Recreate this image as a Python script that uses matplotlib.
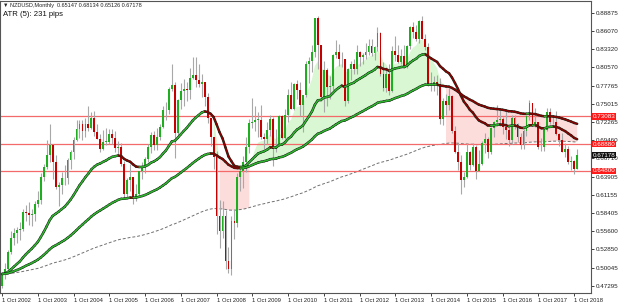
import numpy as np
import pandas as pd
import matplotlib
matplotlib.use("Agg")
import matplotlib.pyplot as plt
from matplotlib.collections import LineCollection
from matplotlib import patheffects as pe
from matplotlib.transforms import blended_transform_factory

plt.rcParams["font.family"] = ["Liberation Sans", "DejaVu Sans"]

# NZDUSD monthly bars, Oct 2002 .. Nov 2018
months = pd.date_range("2002-10-01", "2018-11-01", freq="MS")
first_open = 0.4720

closes = [
    0.4910, 0.4990, 0.5245,                                                   # 2002
    0.5455, 0.5540, 0.5580, 0.5600, 0.5860, 0.5840, 0.5810, 0.5830, 0.5970, 0.6040, 0.6380, 0.6540,  # 2003
    0.6720, 0.6880, 0.6610, 0.6230, 0.6260, 0.6370, 0.6370, 0.6640, 0.6760, 0.6950, 0.7120, 0.7200,  # 2004
    0.7080, 0.7190, 0.7130, 0.7290, 0.7070, 0.6970, 0.6820, 0.6920, 0.6920, 0.7040, 0.6980, 0.6830,  # 2005
    0.6840, 0.6590, 0.6120, 0.6340, 0.6380, 0.6070, 0.6130, 0.6470, 0.6540, 0.6660, 0.6840, 0.7030,  # 2006
    0.6880, 0.7000, 0.7150, 0.7400, 0.7400, 0.7720, 0.7790, 0.7050, 0.7560, 0.7700, 0.7720, 0.7710,  # 2007
    0.7900, 0.7940, 0.7860, 0.7800, 0.7840, 0.7610, 0.7280, 0.7000, 0.6690, 0.5790, 0.5570, 0.5800,  # 2008
    0.5100, 0.4980, 0.5710, 0.5680, 0.6390, 0.6480, 0.6620, 0.6850, 0.7210, 0.7220, 0.7260, 0.7260,  # 2009
    0.7000, 0.6970, 0.7100, 0.7270, 0.6810, 0.6860, 0.7320, 0.6980, 0.7330, 0.7630, 0.7420, 0.7800,  # 2010
    0.7710, 0.7490, 0.7630, 0.8110, 0.8160, 0.8290, 0.8800, 0.8390, 0.7610, 0.8010, 0.7760, 0.7770,  # 2011
    0.8240, 0.8290, 0.8180, 0.8180, 0.7540, 0.8030, 0.8110, 0.8030, 0.8290, 0.8210, 0.8250, 0.8290,  # 2012
    0.8380, 0.8270, 0.8370, 0.8580, 0.7960, 0.7740, 0.7960, 0.7690, 0.8310, 0.8250, 0.8140, 0.8230,  # 2013
    0.8070, 0.8380, 0.8670, 0.8590, 0.8490, 0.8760, 0.8490, 0.8360, 0.7800, 0.7800, 0.7830, 0.7800,  # 2014
    0.7270, 0.7550, 0.7480, 0.7620, 0.7090, 0.6770, 0.6610, 0.6340, 0.6390, 0.6760, 0.6570, 0.6840,  # 2015
    0.6480, 0.6590, 0.6910, 0.6970, 0.6760, 0.7130, 0.7220, 0.7260, 0.7270, 0.7140, 0.7100, 0.6950,  # 2016
    0.7290, 0.7190, 0.6990, 0.6870, 0.7090, 0.7320, 0.7510, 0.7170, 0.7220, 0.6840, 0.6840, 0.7100,  # 2017
    0.7370, 0.7220, 0.7230, 0.7040, 0.6950, 0.6770, 0.6810, 0.6620, 0.6630, 0.6515, 0.67178,         # 2018
]
highs = [
    0.4945, 0.5080, 0.5280,
    0.5560, 0.5610, 0.5630, 0.5700, 0.5900, 0.5960, 0.6000, 0.5900, 0.6020, 0.6180, 0.6450, 0.6590,
    0.6950, 0.7190, 0.6890, 0.6720, 0.6310, 0.6460, 0.6570, 0.6680, 0.6800, 0.6990, 0.7250, 0.7250,
    0.7250, 0.7290, 0.7466, 0.7370, 0.7390, 0.7190, 0.7040, 0.7100, 0.7130, 0.7110, 0.7120, 0.7080,
    0.6930, 0.6910, 0.6630, 0.6370, 0.6580, 0.6390, 0.6280, 0.6480, 0.6610, 0.6690, 0.6890, 0.7070,
    0.7080, 0.7130, 0.7200, 0.7460, 0.7530, 0.7760, 0.8107, 0.7830, 0.7580, 0.7820, 0.7880, 0.7830,
    0.8040, 0.8215, 0.8213, 0.8100, 0.7960, 0.7800, 0.7670, 0.7290, 0.7000, 0.6780, 0.6040, 0.6020,
    0.5890, 0.5320, 0.5800, 0.5900, 0.6440, 0.6560, 0.6710, 0.6990, 0.7270, 0.7590, 0.7470, 0.7380,
    0.7480, 0.7060, 0.7220, 0.7330, 0.7300, 0.7110, 0.7330, 0.7330, 0.7420, 0.7730, 0.7840, 0.7820,
    0.7870, 0.7840, 0.7640, 0.8160, 0.8210, 0.8390, 0.8800, 0.8843, 0.8390, 0.8150, 0.8050, 0.7920,
    0.8260, 0.8470, 0.8410, 0.8290, 0.8190, 0.8050, 0.8160, 0.8190, 0.8400, 0.8300, 0.8280, 0.8430,
    0.8480, 0.8480, 0.8380, 0.8670, 0.8590, 0.8130, 0.8060, 0.8100, 0.8380, 0.8540, 0.8390, 0.8330,
    0.8400, 0.8400, 0.8690, 0.8740, 0.8700, 0.8770, 0.8836, 0.8560, 0.8420, 0.7990, 0.7930, 0.7940,
    0.7890, 0.7590, 0.7650, 0.7740, 0.7630, 0.7170, 0.6900, 0.6720, 0.6460, 0.6900, 0.6780, 0.6900,
    0.6870, 0.6800, 0.6940, 0.7050, 0.7000, 0.7150, 0.7240, 0.7480, 0.7400, 0.7300, 0.7400, 0.7190,
    0.7330, 0.7330, 0.7210, 0.7060, 0.7110, 0.7330, 0.7560, 0.7510, 0.7430, 0.7230, 0.6980, 0.7120,
    0.7440, 0.7430, 0.7320, 0.7390, 0.7060, 0.7060, 0.6900, 0.6860, 0.6710, 0.6640, 0.68134,
]
lows = [
    0.4695, 0.4830, 0.4960,
    0.5210, 0.5350, 0.5380, 0.5420, 0.5560, 0.5720, 0.5660, 0.5640, 0.5710, 0.5930, 0.5970, 0.6320,
    0.6510, 0.6620, 0.6360, 0.6200, 0.5950, 0.6130, 0.6270, 0.6280, 0.6510, 0.6660, 0.6930, 0.6980,
    0.6950, 0.7000, 0.7080, 0.7110, 0.7010, 0.6960, 0.6770, 0.6790, 0.6870, 0.6890, 0.6890, 0.6770,
    0.6730, 0.6550, 0.6060, 0.6080, 0.6180, 0.5970, 0.6020, 0.6110, 0.6350, 0.6450, 0.6620, 0.6750,
    0.6790, 0.6790, 0.6950, 0.7130, 0.7250, 0.7340, 0.7700, 0.6683, 0.6980, 0.7420, 0.7470, 0.7540,
    0.7570, 0.7880, 0.7760, 0.7760, 0.7610, 0.7470, 0.7210, 0.6860, 0.6510, 0.5520, 0.5300, 0.5450,
    0.4990, 0.4920, 0.4890, 0.5440, 0.5630, 0.6180, 0.6220, 0.6460, 0.6750, 0.7130, 0.7080, 0.7000,
    0.6960, 0.6810, 0.6890, 0.7010, 0.6560, 0.6760, 0.6860, 0.6960, 0.6970, 0.7230, 0.7420, 0.7400,
    0.7570, 0.7310, 0.7070, 0.7610, 0.7820, 0.7980, 0.8220, 0.8030, 0.7550, 0.7370, 0.7460, 0.7580,
    0.7710, 0.8200, 0.8070, 0.8060, 0.7460, 0.7520, 0.7860, 0.7960, 0.7950, 0.8080, 0.8100, 0.8180,
    0.8250, 0.8230, 0.8170, 0.8300, 0.7930, 0.7690, 0.7680, 0.7630, 0.7680, 0.8150, 0.8120, 0.8100,
    0.8050, 0.8050, 0.8340, 0.8500, 0.8450, 0.8420, 0.8480, 0.8320, 0.7770, 0.7700, 0.7690, 0.7640,
    0.7200, 0.7180, 0.7330, 0.7410, 0.7060, 0.6750, 0.6500, 0.6130, 0.6240, 0.6370, 0.6490, 0.6560,
    0.6350, 0.6510, 0.6570, 0.6750, 0.6680, 0.6740, 0.6990, 0.7160, 0.7170, 0.7040, 0.6970, 0.6860,
    0.6890, 0.7110, 0.6920, 0.6820, 0.6820, 0.7010, 0.7250, 0.7170, 0.7140, 0.6810, 0.6780, 0.6780,
    0.7080, 0.7190, 0.7190, 0.7030, 0.6860, 0.6770, 0.6690, 0.6590, 0.6500, 0.6425, 0.65126,
]
opens = [first_open] + closes[:-1]
opens[-1] = 0.65147

level_lines = [0.73083, 0.68880, 0.64800]
price_ticks = [0.88875, 0.86070, 0.83320, 0.80570, 0.77765, 0.75015, 0.72265, 0.69460,
               0.66710, 0.63905, 0.61155, 0.58405, 0.55600, 0.52850, 0.50045, 0.47295]
fast_n, mid_n, slow_n, cloud_n = 26, 72, 200, 8
fill_from = pd.Timestamp("2008-09-01")

header = "\u25bc NZDUSD,Monthly  0.65147 0.68134 0.65126 0.67178"
atr_text = "ATR (5): 231 pips"

# ---- indicators
c = pd.Series(closes)
fast = c.ewm(span=fast_n, adjust=False).mean().values
mid = c.ewm(span=mid_n, adjust=False).mean().values
slow = c.ewm(span=slow_n, adjust=False).mean().values
cloud = c.ewm(span=cloud_n, adjust=False).mean().values

n = len(closes)
x = np.arange(n)
o, h, l, cl = map(np.array, (opens, highs, lows, closes))

fig = plt.figure(figsize=(6.25, 3.03), dpi=100)
ax = fig.add_axes([0.0, 0.033, 0.9456, 0.965])

# cloud: green above the mid line, pink down to the long ma when below
show = (months >= fill_from)
bull = cloud >= mid
ax.fill_between(x, cloud, mid, where=show & bull, color="#d8f7d2",
                interpolate=True, lw=0, zorder=1)
ax.fill_between(x, slow, mid, where=show & ~bull, color="#fddcdc",
                interpolate=False, lw=0, zorder=1)

# long ma dashed
ax.plot(x, slow, color="#707070", lw=0.7, ls=(0, (3, 2)), zorder=2)

# horizontal levels
for lv in level_lines:
    ax.axhline(lv, color="#f46a6a", lw=0.9, zorder=2)

# candles
ax.vlines(x, l, h, color="#a8a8a8", lw=0.8, zorder=3)
up = cl >= o
body_lo = np.minimum(o, cl)
body_h = np.maximum(np.abs(cl - o), 0.0008)
ax.bar(x[up], body_h[up], bottom=body_lo[up], width=0.62, color="#1fae1f", lw=0, zorder=4)
ax.bar(x[~up], body_h[~up], bottom=body_lo[~up], width=0.62, color="#c40000", lw=0, zorder=4)

# coloured moving averages: green rising, dark red falling
def ma_line(vals):
    pts = np.column_stack([x, vals])
    segs = np.stack([pts[:-1], pts[1:]], axis=1)
    cols = ["#2db82d" if vals[i + 1] >= vals[i] else "#8b0000" for i in range(n - 1)]
    lc = LineCollection(segs, colors=cols, lw=1.0, zorder=5, capstyle="round")
    lc.set_path_effects([pe.Stroke(linewidth=1.8, foreground="#1c2a1c"), pe.Normal()])
    ax.add_collection(lc)

ma_line(fast)
ma_line(mid)

# axes
px_per_bar = 2.98
x0 = -2 / px_per_bar
ax.set_xlim(x0, x0 + 591 / px_per_bar)
ax.set_ylim(0.4620, 0.9072)

oct_idx = [i for i, m in enumerate(months) if m.month == 10]
ax.set_xticks(oct_idx)
ax.set_xticklabels([f"1 Oct {months[i].year}" for i in oct_idx], fontsize=4.2, ha="left")
ax.yaxis.tick_right()
ax.set_yticks(price_ticks)
ax.set_yticklabels([f"{v:.5f}" for v in price_ticks], fontsize=4.5)
ax.tick_params(axis="both", length=2, width=0.6, pad=1.5, colors="#222222")
for s in ax.spines.values():
    s.set_color("#555555")
    s.set_linewidth(0.8)

# price labels on right axis
tr = blended_transform_factory(ax.transAxes, ax.transData)
for lv in level_lines:
    ax.text(1.003, lv, f"{lv:.5f}", transform=tr, fontsize=4.5, color="white", va="center",
            ha="left", bbox=dict(boxstyle="square,pad=0.12", fc="#ff1a1a", ec="none"), zorder=10,
            clip_on=False)
ax.text(1.003, closes[-1], f"{closes[-1]:.5f}", transform=tr, fontsize=4.5, color="white",
        va="center", ha="left", bbox=dict(boxstyle="square,pad=0.12", fc="#111111", ec="none"),
        zorder=10, clip_on=False)

fig.text(3 / 625, 1 - 5 / 303, header, fontsize=4.0, va="center", ha="left", color="#222222")
fig.text(3 / 625, 1 - 14 / 303, atr_text, fontsize=5.6, va="center", ha="left", color="#111111")

fig.savefig("out.png", dpi=100)
